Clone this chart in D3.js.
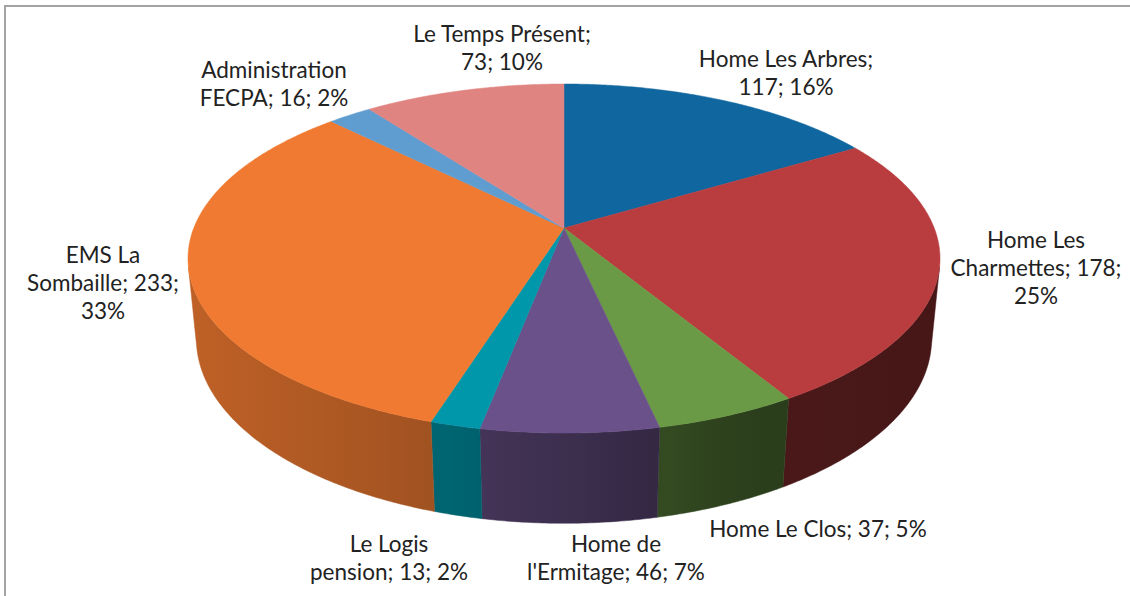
<!DOCTYPE html>
<html><head><meta charset="utf-8">
<script src="https://cdn.jsdelivr.net/npm/d3@7"></script>
<style>body{margin:0;background:#fff}svg{display:block}</style>
</head><body><svg id="c" width="1130" height="596"></svg>
<script>
// ---- data ----
const categories = ["Home Les Arbres","Home Les Charmettes","Home Le Clos","Home de l'Ermitage","Le Logis pension","EMS La Sombaille","Administration FECPA","Le Temps Présent"];
const values = [117,178,37,46,13,233,16,73];
const percents = [16,25,5,7,2,33,2,10];

// ---- styles / layout ----
const colors = ["#10679f","#b93c3e","#6a9a45","#6a5189","#0097aa","#f07a31","#5f9cd0","#e08482"];
const labelWrap = [[3,2],[2,2,1],[5],[2,3],[2,3],[2,2,1],[1,3],[3,2]];
const labelPos = [[786,67],[1036,248],[818,537],[616,552],[389,552],[103,263],[274,78],[502,42]];

const svg = d3.select("#c");
svg.append("rect").attr("x",5).attr("y",6).attr("width",1200).attr("height",700)
  .attr("fill","#fff").attr("stroke","#a3a3a3").attr("stroke-width",2);

// perspective projection of a unit-radius disc
const cx=564, cy=228, S=370.2, u=0.1966, sphi=0.457, cphi=Math.sqrt(1-sphi*sphi), thick=0.246;
function proj(a,y){
  const x=Math.sin(a), z=Math.cos(a);
  const yc=y*cphi+z*sphi;
  const den=1+u*(z*cphi-y*sphi);
  return [cx+S*x/den, cy-S*yc/den];
}
const pie = d3.pie().sort(null).value(d=>d).startAngle(0).endAngle(2*Math.PI);
const arcs = pie(values);
const amin = Math.acos(-u/cphi), amax = 2*Math.PI-amin;
const shade = d3.scaleLinear().domain([100,149,158,179,194,215,260]).range([0.38,0.40,0.42,0.57,0.66,0.71,0.80]).clamp(true);
function sample(a0,a1,y){
  const n=Math.max(2,Math.ceil(Math.abs(a1-a0)/(Math.PI/360)));
  const pts=[];
  for(let k=0;k<=n;k++){const a=a0+(a1-a0)*k/n; pts.push(proj(a,y));}
  return pts;
}
const defs = svg.append("defs");
const gWalls = svg.append("g"), gTops = svg.append("g");
const line = d3.line();
arcs.forEach((d,i)=>{
  const a0=Math.max(d.startAngle,amin), a1=Math.min(d.endAngle,amax);
  if(a0<a1){
    const top=sample(a0,a1,0), bot=sample(a1,a0,-thick);
    const x1=top[0][0], x2=top[top.length-1][0];
    const gid="w"+i;
    const gr=defs.append("linearGradient").attr("id",gid).attr("gradientUnits","userSpaceOnUse")
      .attr("x1",x1).attr("y1",0).attr("x2",x2).attr("y2",0);
    const base=d3.rgb(colors[i]);
    for(let k=0;k<=8;k++){
      const a=a0+(a1-a0)*k/8, f=shade(a*180/Math.PI);
      gr.append("stop").attr("offset",k/8)
        .attr("stop-color",d3.rgb(base.r*f,base.g*f,base.b*f).formatHex());
    }
    gWalls.append("path").attr("d",line(top.concat(bot))+"Z").attr("fill",`url(#${gid})`)
      .attr("stroke",`url(#${gid})`).attr("stroke-width",0.5);
  }
  const pts=[[cx,cy]].concat(sample(d.startAngle,d.endAngle,0));
  gTops.append("path").attr("d",line(pts)+"Z").attr("fill",colors[i])
    .attr("stroke",colors[i]).attr("stroke-width",0.5);
});

// labels
const gL = svg.append("g").attr("font-family","Lato, 'Open Sans', sans-serif").attr("font-size",22.5)
  .attr("fill","#222").attr("text-anchor","middle");
categories.forEach((c,i)=>{
  const words=`${c}; ${values[i]}; ${percents[i]}%`.split(" ");
  let idx=0;
  const t=gL.append("text").attr("x",labelPos[i][0]).attr("y",labelPos[i][1]);
  labelWrap[i].forEach((n,j)=>{
    t.append("tspan").attr("x",labelPos[i][0]).attr("dy",j?28:0).text(words.slice(idx,idx+n).join(" "));
    idx+=n;
  });
});
</script></body></html>
